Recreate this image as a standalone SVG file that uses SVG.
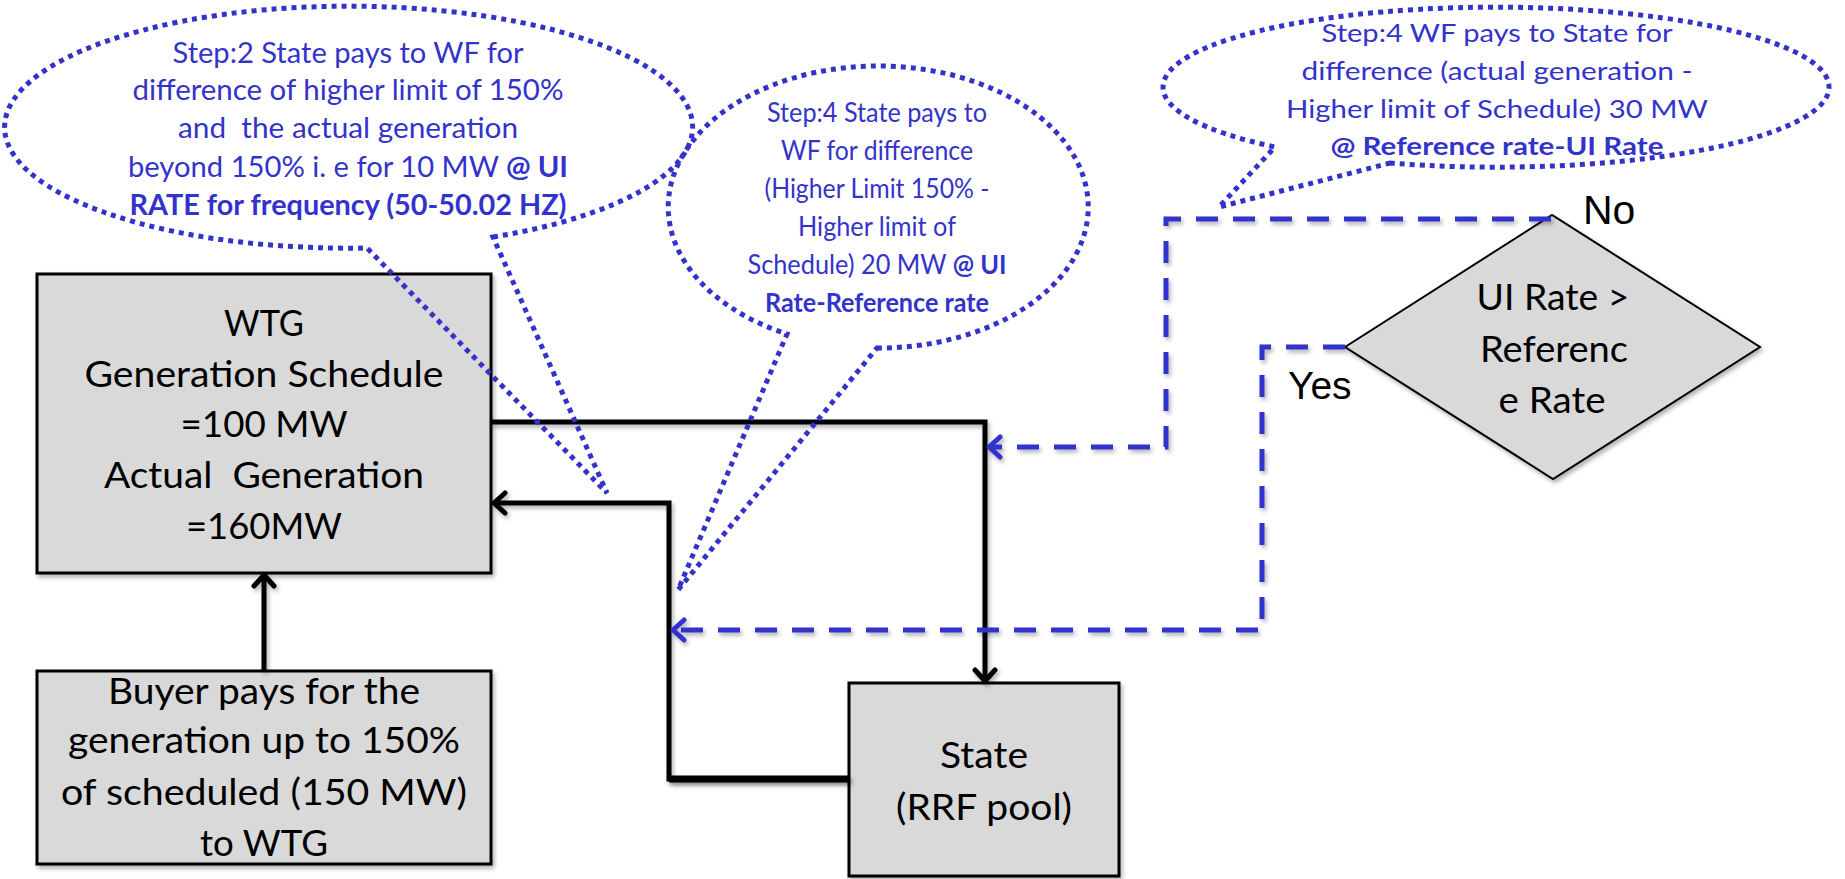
<svg xmlns="http://www.w3.org/2000/svg" width="1845" height="879" viewBox="0 0 1845 879">
<defs>
<style>
.box{fill:#D9D9D9;stroke:#000;stroke-width:3;filter:url(#sh)}
.dia{fill:#D9D9D9;stroke:#000;stroke-width:2;filter:url(#sh)}
.blk{fill:none;stroke:#000;stroke-width:5;filter:url(#sh)}
.dash{fill:none;stroke:#3333CC;stroke-width:5;stroke-dasharray:22 15;filter:url(#sh)}
.call{fill:none;stroke:#3333CC;stroke-width:5;stroke-dasharray:5 5}
.bt{font-family:Lato,"Open Sans",sans-serif;fill:#3333CC;text-anchor:middle;white-space:pre}
.nt{font-family:Lato,"Open Sans",sans-serif;fill:#000;text-anchor:middle;white-space:pre}
.ar{font-family:"Liberation Sans",Arial,sans-serif;fill:#000}
.b{font-weight:bold}
</style>
<filter id="sh" filterUnits="userSpaceOnUse" x="0" y="0" width="1845" height="879">
<feDropShadow dx="2" dy="3" stdDeviation="2" flood-color="#000" flood-opacity="0.3"/>
</filter>
<marker id="ak" viewBox="-16 -13 20 26" refX="0" refY="0" markerWidth="20" markerHeight="26" markerUnits="userSpaceOnUse" orient="auto">
<path d="M-11,-10 L0,0 L-11,10" fill="none" stroke="#000" stroke-width="5" stroke-linecap="round" stroke-linejoin="round"/>
</marker>
<marker id="ab" viewBox="-16 -13 20 26" refX="0" refY="0" markerWidth="20" markerHeight="26" markerUnits="userSpaceOnUse" orient="auto">
<path d="M-11,-10 L0,0 L-11,10" fill="none" stroke="#3333CC" stroke-width="5" stroke-linecap="round" stroke-linejoin="round"/>
</marker>
</defs>
<rect width="1845" height="879" fill="#fff"/>

<g id="wtg">
<rect class="box" x="37" y="274" width="454" height="299"/>
<text class="nt" font-size="36"><tspan x="264" y="336" textLength="80" lengthAdjust="spacingAndGlyphs">WTG</tspan><tspan x="264" y="387" textLength="359" lengthAdjust="spacingAndGlyphs">Generation Schedule</tspan><tspan x="264" y="437" textLength="167" lengthAdjust="spacingAndGlyphs">=100 MW</tspan><tspan x="264" y="488" textLength="320" lengthAdjust="spacingAndGlyphs">Actual  Generation</tspan><tspan x="264" y="539" textLength="156" lengthAdjust="spacingAndGlyphs">=160MW</tspan></text>
</g>

<g id="buyer">
<rect class="box" x="37" y="671" width="454" height="193"/>
<text class="nt" font-size="36"><tspan x="264" y="704" textLength="312" lengthAdjust="spacingAndGlyphs">Buyer pays for the</tspan><tspan x="264" y="753" textLength="392" lengthAdjust="spacingAndGlyphs">generation up to 150%</tspan><tspan x="264" y="805" textLength="406" lengthAdjust="spacingAndGlyphs">of scheduled (150 MW)</tspan><tspan x="264" y="856" textLength="128" lengthAdjust="spacingAndGlyphs">to WTG</tspan></text>
</g>

<g id="state">
<rect class="box" x="849" y="683" width="270" height="193"/>
<text class="nt" font-size="36"><tspan x="984" y="768" textLength="88" lengthAdjust="spacingAndGlyphs">State</tspan><tspan x="984" y="820" textLength="176" lengthAdjust="spacingAndGlyphs">(RRF pool)</tspan></text>
</g>

<g id="decision">
<polygon class="dia" points="1345,347 1552,215 1760,347 1553,479"/>
<text class="nt" font-size="37"><tspan x="1553" y="310" textLength="153" lengthAdjust="spacingAndGlyphs">UI Rate &gt;</tspan><tspan x="1554" y="362" textLength="148" lengthAdjust="spacingAndGlyphs">Referenc</tspan><tspan x="1552" y="413" textLength="107" lengthAdjust="spacingAndGlyphs">e Rate</tspan></text>
</g>

<g id="connectors">
<path class="blk" d="M491,422 H985 V681" marker-end="url(#ak)"/>
<path class="blk" d="M849,779 H669 V503 H494" marker-end="url(#ak)"/>
<path class="blk" d="M849,779 H669" style="stroke-width:7"/>
<path class="blk" d="M264,671 V575" marker-end="url(#ak)"/>
<path class="dash" d="M1551,219 H1166 V447 H989" marker-end="url(#ab)"/>
<path class="dash" d="M1345,347 H1262 V630 H673" marker-end="url(#ab)"/>
<text class="ar" x="1583" y="224" font-size="41">No</text>
<text class="ar" x="1288" y="399" font-size="39">Yes</text>
</g>

<g id="callout-step2">
<path class="call" d="M493,237 A344 121 0 1 0 367,248 L607,493 Z"/>
<text class="bt" font-size="28"><tspan x="348" y="63" textLength="351" lengthAdjust="spacingAndGlyphs">Step:2 State pays to WF for</tspan><tspan x="348" y="100" textLength="431" lengthAdjust="spacingAndGlyphs">difference of higher limit of 150%</tspan><tspan x="348" y="138" textLength="340" lengthAdjust="spacingAndGlyphs">and  the actual generation</tspan></text>
<text class="bt" font-size="28" x="348" y="177" textLength="440" lengthAdjust="spacingAndGlyphs">beyond 150% i. e for 10 MW <tspan class="b">@ UI</tspan></text>
<text class="bt b" font-size="28" x="348" y="215" textLength="437" lengthAdjust="spacingAndGlyphs">RATE for frequency (50-50.02 HZ)</text>
</g>

<g id="callout-step4-state">
<path class="call" d="M877,348 A210 141 0 1 0 787,334 L678,590 Z"/>
<text class="bt" font-size="27"><tspan x="877" y="122" textLength="220" lengthAdjust="spacingAndGlyphs">Step:4 State pays to</tspan><tspan x="877" y="160" textLength="192" lengthAdjust="spacingAndGlyphs">WF for difference</tspan><tspan x="877" y="198" textLength="225" lengthAdjust="spacingAndGlyphs">(Higher Limit 150% -</tspan><tspan x="877" y="236" textLength="158" lengthAdjust="spacingAndGlyphs">Higher limit of</tspan></text>
<text class="bt" font-size="27" x="877" y="274" textLength="259" lengthAdjust="spacingAndGlyphs">Schedule) 20 MW <tspan class="b">@ UI</tspan></text>
<text class="bt b" font-size="27" x="877" y="312" textLength="224" lengthAdjust="spacingAndGlyphs">Rate-Reference rate</text>
</g>

<g id="callout-step4-wf">
<path class="call" d="M1390,163 A333 80 0 1 0 1275,147 L1219,207 Z"/>
<text class="bt" font-size="25"><tspan x="1497" y="42" textLength="351" lengthAdjust="spacingAndGlyphs">Step:4 WF pays to State for</tspan><tspan x="1497" y="80" textLength="391" lengthAdjust="spacingAndGlyphs">difference (actual generation -</tspan><tspan x="1497" y="118" textLength="422" lengthAdjust="spacingAndGlyphs">Higher limit of Schedule) 30 MW</tspan></text>
<text class="bt b" font-size="25" x="1497" y="155" textLength="333" lengthAdjust="spacingAndGlyphs">@ Reference rate-UI Rate</text>
</g>
</svg>
